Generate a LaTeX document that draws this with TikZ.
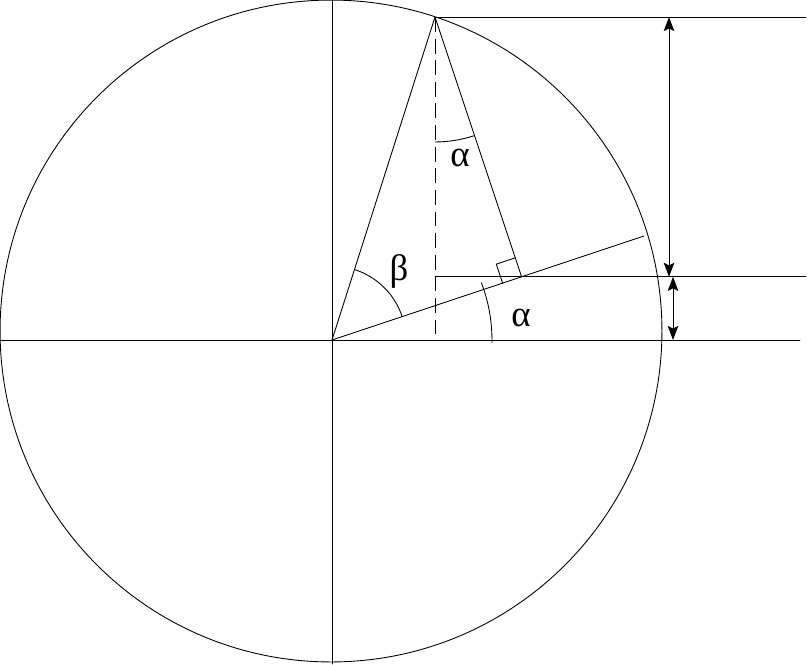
\documentclass[tikz,border=0pt]{standalone}
\usepackage{fontspec}
\setmainfont{Liberation Serif}
\usetikzlibrary{calc,angles,arrows.meta}
\begin{document}
\begin{tikzpicture}[x=0.02cm,y=-0.02cm,
  ln/.style={line width=0.5pt,line cap=round},
  dimarrow/.style={ln,{Stealth[length=8pt,width=6pt,inset=1.5pt]}-{Stealth[length=8pt,width=6pt,inset=1.5pt]}},
  lbl/.style={font=\fontsize{21}{21}\selectfont,inner sep=0pt}]
\useasboundingbox (0,0) rectangle (810,664);
% key points
\coordinate (C) at (331,331);
\coordinate (O) at (332,340);
\coordinate (P) at (435,17);
\coordinate (E) at (644,236);
\coordinate (D) at (435,336);
\coordinate (F) at ($(O)!(P)!(E)$);
\coordinate (H0) at (D |- F);
\coordinate (H1) at (806,0 |- F);
\coordinate (T1) at (806,17);
\coordinate (X0) at (0,340);
\coordinate (X1) at (800,340);
\coordinate (Y0) at (332,0);
\coordinate (Y1) at (332,664);
% circle and axes
\draw[ln] (C) circle[radius=6.62cm];
\draw[ln] (X0) -- (X1);
\draw[ln] (Y0) -- (Y1);
% triangle lines
\draw[ln] (O) -- (P);
\draw[ln] (O) -- (E);
\draw[ln] (P) -- (F);
\draw[ln,line cap=butt,dash pattern=on 8.5pt off 3.8pt] (P) -- (D);
\draw[ln] (P) -- (T1);
\draw[ln] (H0) -- (H1);
% right angle mark
\coordinate (RA) at ($(F)!0.4cm!(P)$);
\coordinate (RB) at ($(F)!0.4cm!(O)$);
\draw[ln] (RA) -- ($(RA)+(RB)-(F)$) -- (RB);
% angles
\draw[ln] pic[draw,angle radius=2.5cm] {angle=D--P--F};
\draw[ln] pic[draw,angle radius=1.48cm] {angle=E--O--P};
\draw[ln] (O) ++(-1:3.2cm) arc[start angle=-1,end angle=21,radius=3.2cm];
% dimension arrows
\coordinate (A1) at (669,17);
\coordinate (A2) at (669,0 |- F);
\coordinate (B1) at (673,0 |- F);
\coordinate (B2) at (673,340);
\draw[dimarrow] (A1) -- (A2);
\draw[dimarrow] (B1) -- (B2);
% labels
\node[lbl] (la1) at (460,158) {α};
\node[lbl] (lb) at (399,271) {β};
\node[lbl] (la2) at (521,318) {α};
\end{tikzpicture}
\end{document}
